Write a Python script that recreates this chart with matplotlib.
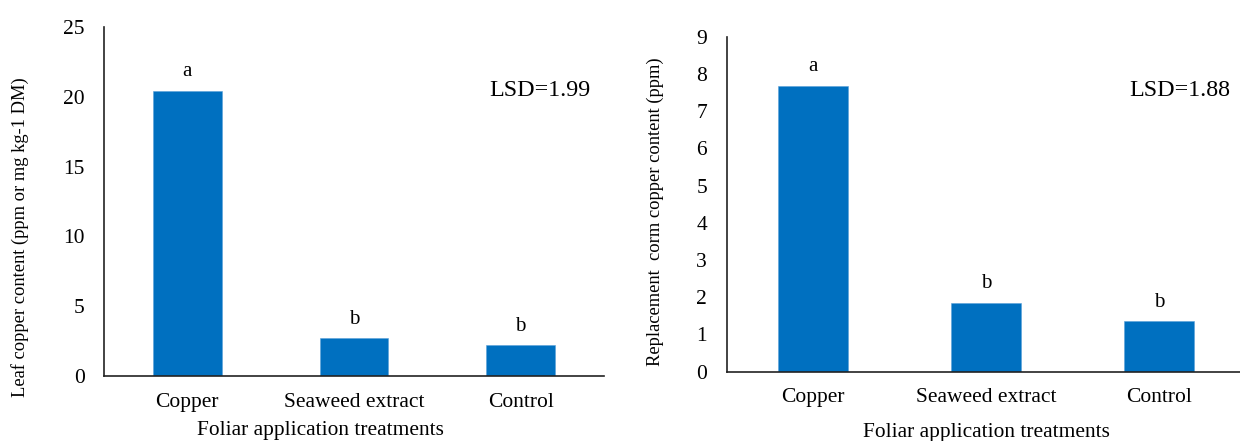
import matplotlib.pyplot as plt

plt.rcParams['font.family'] = ['Liberation Serif', 'DejaVu Serif']

treatments = ["Copper", "Seaweed extract", "Control"]
leaf_cu = [20.4, 2.7, 2.2]
leaf_letters = ["a", "b", "b"]
corm_cu = [7.68, 1.85, 1.35]
corm_letters = ["a", "b", "b"]

BLUE = "#0070C0"
W, H = 1240, 441

fig = plt.figure(figsize=(12.4, 4.41), dpi=100)


def panel(rect, vals, letters, ymax, yticks, lsd, lsd_xy, xlab_x, xlab_y, ylab, ylab_xy):
    ax = fig.add_axes(rect)
    x = [i + 0.5 for i in range(len(vals))]
    ax.bar(x, vals, width=0.41, color=BLUE, edgecolor="#5aa0d8", linewidth=0.4, zorder=2)
    ax.set_xlim(0, 3)
    ax.set_ylim(0, ymax)
    ax.set_yticks(yticks)
    ax.set_xticks(x)
    ax.set_xticklabels(treatments)
    for s in ["top", "right"]:
        ax.spines[s].set_visible(False)
    for s in ["left", "bottom"]:
        ax.spines[s].set_color("#222222")
        ax.spines[s].set_linewidth(1.2)
    ax.tick_params(axis="y", length=0, pad=14, labelsize=15.5)
    ax.tick_params(axis="x", length=0, pad=12, labelsize=15.5)
    for xi, v, l in zip(x, vals, letters):
        ax.annotate(l, (xi, v), xytext=(0, 7), textcoords="offset points",
                    ha="center", va="bottom", fontsize=15)
    fig.text(lsd_xy[0] / W, 1 - lsd_xy[1] / H, lsd, ha="center", va="center", fontsize=17.3)
    fig.text(xlab_x / W, 1 - xlab_y / H, "Foliar application treatments",
             ha="center", va="center", fontsize=15.4)
    fig.text(ylab_xy[0] / W, 1 - ylab_xy[1] / H, ylab, rotation=90,
             ha="center", va="center", fontsize=13.3)
    return ax


panel([104 / W, 1 - 376 / H, 500 / W, 349 / H], leaf_cu, leaf_letters, 25,
      range(0, 26, 5), "LSD=1.99", (540, 90), 320, 431,
      "Leaf copper content (ppm or mg kg-1 DM)", (20, 237))

panel([726.5 / W, 1 - 371.7 / H, 519 / W, 335 / H], corm_cu, corm_letters, 9,
      range(0, 10), "LSD=1.88", (1180, 91), 986, 433,
      "Replacement  corm copper content (ppm)", (655, 212))

fig.savefig("out.png", dpi=100)
